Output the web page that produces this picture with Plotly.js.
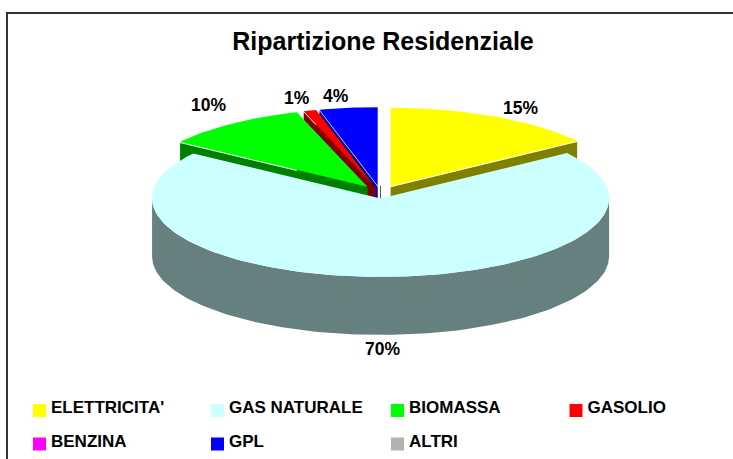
<!DOCTYPE html>
<html><head><meta charset="utf-8">
<script src="https://cdn.plot.ly/plotly-3.0.1.min.js"></script>
<style>html,body{margin:0;padding:0;background:#fff;overflow:hidden}</style>
</head><body><div id="chart" style="width:733px;height:459px"></div>
<script>
// ---- data ----
const categories = ["ELETTRICITA'", "GAS NATURALE", "BIOMASSA", "GASOLIO", "BENZINA", "GPL", "ALTRI"];
const shares     = [15.2, 69.5, 10.3, 0.9, 0, 4.1, 0];
const shareText  = ["15%", "70%", "10%", "1%", "", "4%", ""];
const topColors  = ["#FFFF00", "#CCFFFF", "#00FF00", "#FF0000", "#FF00FF", "#0000FF", "#B2B2B2"];
const sideColors = ["#808000", "#668080", "#008000", "#800000", "#800080", "#000080", "#595959"];

// ---- pie geometry (axis units = screen pixels) ----
const CX = 380.5, CY = 192, RX = 228.5, RY = 78.5, DEPTH = 58, EXPLODE = 22, SQUASH = 0.29, SEAM = 1;
const rad = d => d * Math.PI / 180;
const total = shares.reduce((a, b) => a + b, 0);
let acc = 0;
const slices = shares.map((v, i) => {
  const a0 = acc / total * 360; acc += v; const a1 = acc / total * 360;
  const mid = rad((a0 + a1) / 2);
  const cx = CX + EXPLODE * Math.sin(mid), cy = CY - EXPLODE * SQUASH * Math.cos(mid);
  return {i, a0, a1, cx, cy};
});
const rim = (s, a) => [s.cx + RX * Math.sin(rad(a)), s.cy - RY * Math.cos(rad(a))];
function arc(s, a0, a1) { const p = [], n = Math.max(2, Math.ceil(Math.abs(a1 - a0) / 1.5));
  for (let k = 0; k <= n; k++) p.push(rim(s, a0 + (a1 - a0) * k / n)); return p; }
function poly(pts, color, lw) {
  return {type: "scatter", mode: "lines", x: pts.map(p => p[0]), y: pts.map(p => p[1]), fill: "toself",
    fillcolor: color, line: {color: color, width: lw || 0}, hoverinfo: "skip", showlegend: false};
}
function radialFace(s, a) { const e = rim(s, a);
  return poly([[s.cx, s.cy + SEAM], [e[0], e[1] + SEAM], [e[0], e[1] + DEPTH], [s.cx, s.cy + DEPTH]], sideColors[s.i]); }
function topFace(s) { return poly([[s.cx, s.cy]].concat(arc(s, s.a0, s.a1)), topColors[s.i]); }

const traces = [];
const back = [5, 3, 2, 0].map(i => slices[i]);         // small back slices, far to near
const teal = slices[1];
back.forEach(s => { traces.push(radialFace(s, s.a0)); traces.push(radialFace(s, s.a1)); });
// zero-valued slices leave only a hairline edge
[slices[4], slices[6]].forEach(s => {
  traces.push({type: "scatter", mode: "lines", x: [s.cx, s.cx], y: [s.cy, s.cy + DEPTH],
    line: {color: sideColors[s.i], width: 1}, hoverinfo: "skip", showlegend: false});
});
back.forEach(s => traces.push(topFace(s)));
// front slice: rim wall then top
const lo = Math.max(teal.a0, 90), hi = Math.min(teal.a1, 270);
const upper = arc(teal, lo, hi), lower = arc(teal, hi, lo).map(p => [p[0], p[1] + DEPTH]);
traces.push(poly(upper.concat(lower), sideColors[1]));
traces.push(topFace(teal));

// legend key: marker trace + text trace laid out on a 4-column grid
const legCols = [39.5, 217.5, 397.5, 576], keyRows = [410.5, 444], textRows = [409, 443], legGap = 11.5;
const legX = categories.map((_, i) => legCols[i % 4]), rowOf = i => Math.floor(i / 4);
traces.push({type: "scatter", mode: "markers", x: legX, y: categories.map((_, i) => keyRows[rowOf(i)]), cliponaxis: false,
  marker: {symbol: "square", size: 13, color: topColors, line: {width: 0}}, hoverinfo: "skip", showlegend: false});
traces.push({type: "scatter", mode: "text", x: legX.map(v => v + legGap), y: categories.map((_, i) => textRows[rowOf(i)]),
  text: categories, textposition: "middle right", cliponaxis: false,
  textfont: {family: "Liberation Sans, Arial, sans-serif", size: 17, color: "#000", weight: 700},
  hoverinfo: "skip", showlegend: false});

// data labels
const labelAt = [[520, 108], [382, 349], [208, 105], [297, 98], null, [336, 96], null];
const annotations = [];
shareText.forEach((t, i) => { if (t) annotations.push({x: labelAt[i][0], y: labelAt[i][1], xref: "x", yref: "y", text: "<b>" + t + "</b>",
  showarrow: false, xanchor: "center", yanchor: "middle", font: {family: "Liberation Sans, Arial, sans-serif", size: 17.5, color: "#000"}}); });

const frame = {color: "#333", width: 2};
const layout = {
  width: 733, height: 459, margin: {l: 0, r: 0, t: 0, b: 0}, showlegend: false,
  paper_bgcolor: "#fff", plot_bgcolor: "#fff",
  title: {text: "<b>Ripartizione Residenziale</b>", x: 383 / 733, xanchor: "center", y: 1 - 41 / 459, yanchor: "middle",
    font: {family: "Liberation Sans, Arial, sans-serif", size: 25, color: "#000"}},
  xaxis: {range: [0, 733], visible: false, fixedrange: true},
  yaxis: {range: [459, 0], visible: false, fixedrange: true},
  annotations,
  shapes: [
    {type: "line", xref: "x", yref: "y", x0: 6, x1: 733, y0: 13, y1: 13, line: frame},
    {type: "line", xref: "x", yref: "y", x0: 7, x1: 7, y0: 12, y1: 459, line: frame}
  ]
};
Plotly.newPlot("chart", traces, layout, {displayModeBar: false, staticPlot: true});
</script></body></html>
